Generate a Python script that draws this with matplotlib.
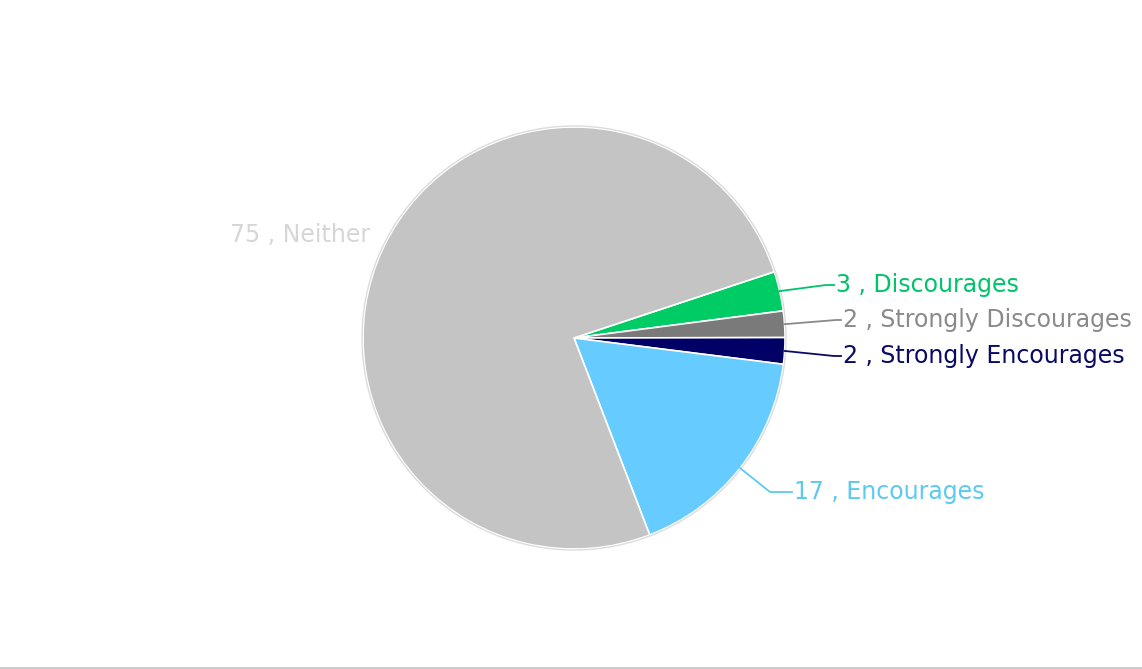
import numpy as np
import matplotlib
matplotlib.use("Agg")
import matplotlib.pyplot as plt

# slice data (clockwise from the upper right)
labels = ["Discourages", "Strongly Discourages", "Strongly Encourages", "Encourages", "Neither"]
values = [3, 2, 2, 17, 75]
colors = ["#00cc66", "#7a7a7a", "#000066", "#66ccff", "#c4c4c4"]
text_colors = ["#00c46a", "#8a8a8a", "#0a0a66", "#5ccaf0", "#d6d6d6"]

W, H = 1142, 669
cx, cy, R = 574, H - 338, 211

# label layout in pixels: (elbow x, elbow y, text x)
label_pos = {
    "Discourages": (826, 285, 836),
    "Strongly Discourages": (836, 320, 843),
    "Strongly Encourages": (834, 356, 843),
    "Encourages": (770, 492, 794),
    "Neither": (372, 235, 370),
}

fig = plt.figure(figsize=(W / 100, H / 100), dpi=100)
ax = fig.add_axes([0, 0, 1, 1])

wedges, _ = ax.pie(values, colors=colors, startangle=18.3, counterclock=False,
                   center=(cx, cy), radius=R, frame=True,
                   wedgeprops=dict(edgecolor="white", linewidth=1.2))
ax.set_xlim(0, W)
ax.set_ylim(0, H)
ax.axis("off")

# faint outer rim
ax.add_patch(plt.Circle((cx, cy), R + 1, fill=False, ec="#dcdcdc", lw=1))

for w, lab, v, tc in zip(wedges, labels, values, text_colors):
    mid = np.deg2rad((w.theta1 + w.theta2) / 2)
    ex, ey = cx + R * np.cos(mid), cy + R * np.sin(mid)
    bx, by, tx = label_pos[lab]
    by = H - by
    txt = "%d , %s" % (v, lab)
    if lab == "Neither":
        ax.text(tx, by, txt, color=tc, fontsize=17, ha="right", va="center")
        continue
    ax.plot([ex, bx, tx - 2], [ey, by, by], color=tc, lw=1.3, clip_on=False)
    ax.text(tx, by, txt, color=tc, fontsize=17, ha="left", va="center")

# bottom border line of the frame
ax.plot([0, W], [1, 1], color="#c8c8c8", lw=2)

fig.savefig("out.png", dpi=100, facecolor="white")
